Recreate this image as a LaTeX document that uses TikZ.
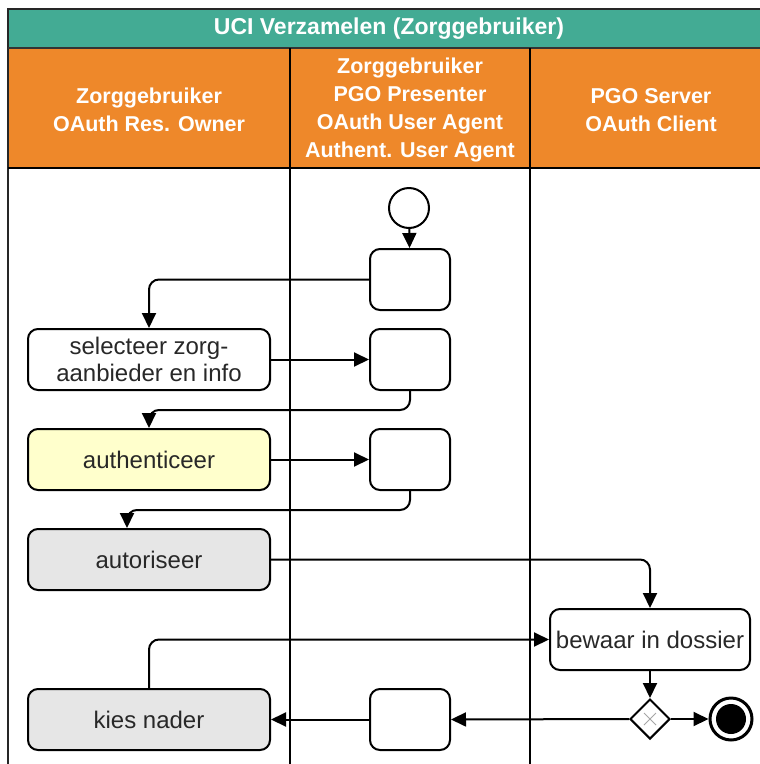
\documentclass[tikz,border=0pt]{standalone}
\usepackage{fontspec}
\setmainfont{Liberation Sans}
\usetikzlibrary{arrows.meta,shapes.geometric}
\definecolor{teal1}{RGB}{67,171,148}
\definecolor{orange1}{RGB}{238,136,42}
\definecolor{yel}{RGB}{255,255,204}
\definecolor{gry}{RGB}{230,230,230}
\definecolor{txt}{RGB}{40,40,40}
\tikzset{
  act/.style={draw=black, line width=2pt, rounded corners=10pt, minimum width=242pt, minimum height=61pt, inner sep=0pt, align=center, font=\fontsize{24}{27.5}\selectfont, text=txt},
  sbox/.style={draw=black, line width=2pt, rounded corners=10pt, minimum width=80pt, minimum height=61pt, inner sep=0pt},
  flow/.style={draw=black, line width=2pt, rounded corners=10pt, -{Triangle[length=15pt,width=14pt]}},
  hdr/.style={text=white, align=center, font=\bfseries\fontsize{21.5}{28}\selectfont},
}
\begin{document}
\begin{tikzpicture}[x=1pt,y=-1pt]
\useasboundingbox (0,0) rectangle (760,764);
\clip (0,0) rectangle (760,764);
% frame
\fill[teal1] (8,9) rectangle (790,48);
\fill[orange1] (8,48) rectangle (790,168);
\draw[line width=2.5pt, black!85] (8,800) -- (8,9) -- (790,9);
\draw[line width=1.5pt, black!80] (8,48) -- (790,48);
\draw[line width=2pt] (8,168) -- (790,168);
\draw[line width=2pt] (290,48) -- (290,800);
\draw[line width=2pt] (530,48) -- (530,800);
% headers
\node[hdr, font=\bfseries\fontsize{23}{28}\selectfont] (title) at (389,29) {UCI Verzamelen (Zorggebruiker)};
\node[hdr] (h1) at (149,110) {Zorggebruiker\\OAuth Res. Owner};
\node[hdr] (h2) at (410,110) {Zorggebruiker\\PGO Presenter\\OAuth User Agent\\Authent. User Agent};
\node[hdr] (h3) at (651,110) {PGO Server\\OAuth Client};
% nodes
\node[circle, draw=black, line width=2pt, minimum size=40pt, inner sep=0pt, fill=white] (start) at (409,208) {};
\node[sbox] (b1) at (410,279.5) {};
\node[sbox] (b2) at (410,359.5) {};
\node[sbox] (b3) at (410,459.5) {};
\node[sbox] (b4) at (410,719.5) {};
\node[act, fill=white] (sel) at (149,359.5) {selecteer zorg-\\aanbieder en info};
\node[act, fill=yel] (auth) at (149,459.5) {authenticeer};
\node[act, fill=gry] (autor) at (149,559.5) {autoriseer};
\node[act, fill=gry] (kies) at (149,719.5) {kies nader};
\node[act, fill=white, minimum width=200pt] (bew) at (650,639.5) {bewaar in dossier};
\node[diamond, draw=black, line width=2pt, minimum width=40pt, minimum height=40pt, inner sep=0pt, fill=white] (gw) at (650,719) {};
\draw[black!35, line width=1pt] ([shift={(-6pt,-6pt)}]gw.center) -- ([shift={(6pt,6pt)}]gw.center) ([shift={(-6pt,6pt)}]gw.center) -- ([shift={(6pt,-6pt)}]gw.center);
\node[circle, draw=black, line width=3pt, minimum size=42pt, inner sep=0pt, fill=white] (end) at (731,719) {};
\fill[black] (end.center) circle (15pt);
% connectors
\draw[flow] (start) -- (b1);
\draw[flow] (b1.west) -| (sel.north);
\draw[flow] (sel.east) -- (b2.west);
\draw[flow] (b2.south) -- ++(0,19) -| (auth.north);
\draw[flow] (auth.east) -- (b3.west);
\draw[flow] (b3.south) -- ++(0,19) -| ([xshift=-22pt]autor.north);
\draw[flow] (autor.east) -| (bew.north);
\draw[flow] (kies.north) |- (bew.west);
\draw[flow] (bew.south) -- (gw.north);
\draw[flow] (gw.east) -- (end.west);
\draw[flow] (gw.west) -- (b4.east);
\draw[flow] (b4.west) -- (kies.east);
\end{tikzpicture}
\end{document}
